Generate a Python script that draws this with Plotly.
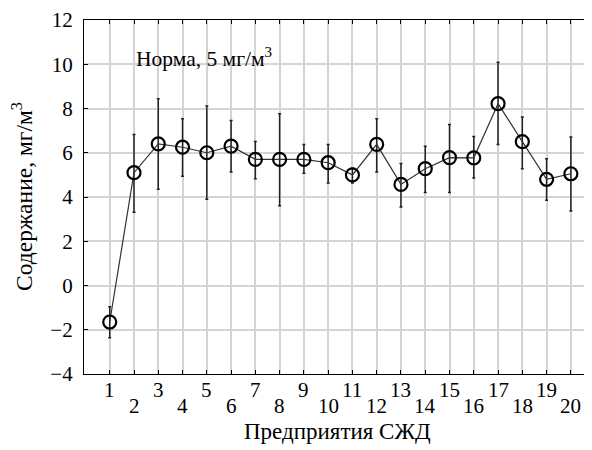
import plotly.graph_objects as go

enterprises = list(range(1, 21))
tick_labels = [str(i) for i in enterprises]
means = [-1.65, 5.1, 6.4, 6.25, 6.0, 6.3, 5.7, 5.7, 5.7, 5.55, 5.0, 6.38, 4.57, 5.28, 5.78, 5.77, 8.22, 6.5, 4.8, 5.05]
err_up = [0.69, 1.73, 2.04, 1.29, 2.11, 1.16, 0.81, 2.06, 0.67, 0.82, 0.3, 1.16, 0.94, 1.01, 1.5, 0.97, 1.87, 1.12, 0.93, 1.66]
err_down = [0.71, 1.79, 2.05, 1.31, 2.1, 1.17, 0.87, 2.1, 0.63, 0.92, 0.37, 1.25, 1.02, 1.08, 1.58, 0.91, 1.85, 1.22, 0.95, 1.68]
y_title = "Содержание, мг/м<sup>3</sup>"
x_title = "Предприятия СЖД"
norm_text = "Норма, 5 мг/м<sup>3</sup>"

FONT = "Liberation Serif, Times New Roman, serif"

fig = go.Figure()
fig.add_trace(go.Scatter(
    x=enterprises, y=means, mode="lines+markers",
    line=dict(color="#333333", width=1.2),
    marker=dict(symbol="circle-open", size=13, color="black", line=dict(width=2.2, color="black")),
    error_y=dict(type="data", symmetric=False, array=err_up, arrayminus=err_down,
                 color="#222222", thickness=1.5, width=1.5),
    showlegend=False,
))

annotations = []
for i, lab in zip(enterprises, tick_labels):
    shift = -16 if i % 2 == 1 else -32
    annotations.append(dict(x=i, xref="x", y=0, yref="paper", text=lab, showarrow=False,
                            xanchor="center", yanchor="middle", yshift=shift,
                            font=dict(family=FONT, size=21, color="black")))
annotations.append(dict(x=0.5, xref="paper", y=0, yref="paper", text=x_title, showarrow=False,
                        xanchor="center", yanchor="middle", yshift=-57,
                        font=dict(family=FONT, size=23, color="black")))
annotations.append(dict(x=0, xref="paper", y=0.5, yref="paper", text=y_title, showarrow=False,
                        textangle=-90, xanchor="center", yanchor="middle", xshift=-62,
                        font=dict(family=FONT, size=23.5, color="black")))
annotations.append(dict(x=1, xref="x", y=10.3, yref="y", text=norm_text, showarrow=False,
                        xanchor="left", yanchor="middle", xshift=24,
                        font=dict(family=FONT, size=21.5, color="black")))

# the page body adds an 8px offset, so the figure is sized to fill the rest of the window
fig.update_layout(
    width=584, height=442,
    margin=dict(l=76, r=1, t=12, b=76),
    paper_bgcolor="white", plot_bgcolor="white",
    annotations=annotations,
    xaxis=dict(range=[-0.06, 20.83], tickmode="array", tickvals=enterprises, showticklabels=False,
               automargin=False,
               ticks="inside", ticklen=4, tickcolor="black", showgrid=True, gridcolor="#d4d4d4", gridwidth=1.5,
               showline=True, linecolor="black", linewidth=1.2, mirror="ticks", zeroline=False),
    yaxis=dict(range=[-4, 12], tickmode="array", tickvals=list(range(-4, 13, 2)),
               automargin=False,
               ticks="inside", ticklen=4, tickcolor="black", showgrid=True, gridcolor="#d4d4d4", gridwidth=1.5,
               showline=True, linecolor="black", linewidth=1.2, mirror="ticks", zeroline=False,
               ticklabelstandoff=6,
               tickfont=dict(family=FONT, size=21, color="black")),
)

fig.write_html("out.html")
